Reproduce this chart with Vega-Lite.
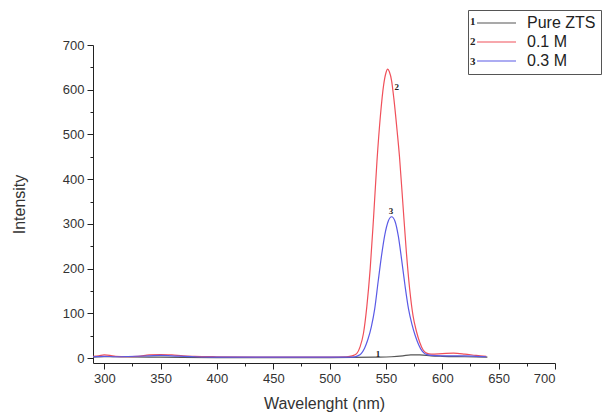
{
  "$schema": "https://vega.github.io/schema/vega-lite/v6.json",
  "autosize": {"type": "none"},
  "width": 462,
  "height": 318,
  "padding": {"left": 93, "top": 45, "right": 52, "bottom": 50},
  "background": "white",
  "config": {
    "view": {"stroke": null},
    "font": "Liberation Sans",
    "axis": {
      "grid": false,
      "domainColor": "#222",
      "tickColor": "#222",
      "labelColor": "#333",
      "titleColor": "#333",
      "labelFont": "Liberation Sans",
      "titleFont": "Liberation Sans",
      "labelFontSize": 13,
      "titleFontSize": 16,
      "titleFontWeight": "normal"
    }
  },
  "datasets": {
    "curves": [
      {"series": "Pure ZTS", "wavelength": 290, "intensity": 2},
      {"series": "Pure ZTS", "wavelength": 300, "intensity": 3},
      {"series": "Pure ZTS", "wavelength": 350, "intensity": 2},
      {"series": "Pure ZTS", "wavelength": 400, "intensity": 1},
      {"series": "Pure ZTS", "wavelength": 500, "intensity": 1},
      {"series": "Pure ZTS", "wavelength": 540, "intensity": 2},
      {"series": "Pure ZTS", "wavelength": 555, "intensity": 3},
      {"series": "Pure ZTS", "wavelength": 565, "intensity": 5},
      {"series": "Pure ZTS", "wavelength": 572, "intensity": 7},
      {"series": "Pure ZTS", "wavelength": 580, "intensity": 7},
      {"series": "Pure ZTS", "wavelength": 590, "intensity": 5},
      {"series": "Pure ZTS", "wavelength": 600, "intensity": 4},
      {"series": "Pure ZTS", "wavelength": 620, "intensity": 3},
      {"series": "Pure ZTS", "wavelength": 640, "intensity": 2},

      {"series": "0.1 M", "wavelength": 290, "intensity": 4},
      {"series": "0.1 M", "wavelength": 295, "intensity": 5},
      {"series": "0.1 M", "wavelength": 300, "intensity": 7},
      {"series": "0.1 M", "wavelength": 305, "intensity": 6},
      {"series": "0.1 M", "wavelength": 310, "intensity": 4},
      {"series": "0.1 M", "wavelength": 320, "intensity": 3},
      {"series": "0.1 M", "wavelength": 330, "intensity": 4},
      {"series": "0.1 M", "wavelength": 340, "intensity": 7},
      {"series": "0.1 M", "wavelength": 350, "intensity": 8},
      {"series": "0.1 M", "wavelength": 360, "intensity": 7},
      {"series": "0.1 M", "wavelength": 370, "intensity": 5},
      {"series": "0.1 M", "wavelength": 380, "intensity": 4},
      {"series": "0.1 M", "wavelength": 400, "intensity": 3},
      {"series": "0.1 M", "wavelength": 450, "intensity": 2},
      {"series": "0.1 M", "wavelength": 500, "intensity": 2},
      {"series": "0.1 M", "wavelength": 515, "intensity": 3},
      {"series": "0.1 M", "wavelength": 520, "intensity": 5},
      {"series": "0.1 M", "wavelength": 524, "intensity": 10},
      {"series": "0.1 M", "wavelength": 527, "intensity": 25},
      {"series": "0.1 M", "wavelength": 530, "intensity": 55},
      {"series": "0.1 M", "wavelength": 533, "intensity": 115},
      {"series": "0.1 M", "wavelength": 536, "intensity": 200},
      {"series": "0.1 M", "wavelength": 539, "intensity": 315},
      {"series": "0.1 M", "wavelength": 542, "intensity": 440},
      {"series": "0.1 M", "wavelength": 545, "intensity": 540},
      {"series": "0.1 M", "wavelength": 548, "intensity": 612},
      {"series": "0.1 M", "wavelength": 550, "intensity": 638},
      {"series": "0.1 M", "wavelength": 551.5, "intensity": 646},
      {"series": "0.1 M", "wavelength": 553, "intensity": 640},
      {"series": "0.1 M", "wavelength": 555, "intensity": 620},
      {"series": "0.1 M", "wavelength": 557, "intensity": 580},
      {"series": "0.1 M", "wavelength": 560, "intensity": 505},
      {"series": "0.1 M", "wavelength": 562, "intensity": 450},
      {"series": "0.1 M", "wavelength": 565, "intensity": 345},
      {"series": "0.1 M", "wavelength": 568, "intensity": 240},
      {"series": "0.1 M", "wavelength": 571, "intensity": 155},
      {"series": "0.1 M", "wavelength": 574, "intensity": 95},
      {"series": "0.1 M", "wavelength": 577, "intensity": 60},
      {"series": "0.1 M", "wavelength": 580, "intensity": 35},
      {"series": "0.1 M", "wavelength": 583, "intensity": 18},
      {"series": "0.1 M", "wavelength": 586, "intensity": 11},
      {"series": "0.1 M", "wavelength": 590, "intensity": 9},
      {"series": "0.1 M", "wavelength": 600, "intensity": 10},
      {"series": "0.1 M", "wavelength": 610, "intensity": 11},
      {"series": "0.1 M", "wavelength": 620, "intensity": 9},
      {"series": "0.1 M", "wavelength": 630, "intensity": 6},
      {"series": "0.1 M", "wavelength": 639, "intensity": 4},

      {"series": "0.3 M", "wavelength": 290, "intensity": 3},
      {"series": "0.3 M", "wavelength": 300, "intensity": 4},
      {"series": "0.3 M", "wavelength": 310, "intensity": 3},
      {"series": "0.3 M", "wavelength": 340, "intensity": 5},
      {"series": "0.3 M", "wavelength": 350, "intensity": 6},
      {"series": "0.3 M", "wavelength": 360, "intensity": 5},
      {"series": "0.3 M", "wavelength": 380, "intensity": 3},
      {"series": "0.3 M", "wavelength": 400, "intensity": 2},
      {"series": "0.3 M", "wavelength": 450, "intensity": 2},
      {"series": "0.3 M", "wavelength": 500, "intensity": 2},
      {"series": "0.3 M", "wavelength": 520, "intensity": 2},
      {"series": "0.3 M", "wavelength": 525, "intensity": 5},
      {"series": "0.3 M", "wavelength": 528, "intensity": 10},
      {"series": "0.3 M", "wavelength": 531, "intensity": 22},
      {"series": "0.3 M", "wavelength": 534, "intensity": 42},
      {"series": "0.3 M", "wavelength": 537, "intensity": 70},
      {"series": "0.3 M", "wavelength": 540, "intensity": 110},
      {"series": "0.3 M", "wavelength": 543, "intensity": 170},
      {"series": "0.3 M", "wavelength": 546, "intensity": 228},
      {"series": "0.3 M", "wavelength": 549, "intensity": 276},
      {"series": "0.3 M", "wavelength": 552, "intensity": 306},
      {"series": "0.3 M", "wavelength": 555, "intensity": 316},
      {"series": "0.3 M", "wavelength": 558, "intensity": 306},
      {"series": "0.3 M", "wavelength": 561, "intensity": 272},
      {"series": "0.3 M", "wavelength": 564, "intensity": 218},
      {"series": "0.3 M", "wavelength": 567, "intensity": 160},
      {"series": "0.3 M", "wavelength": 570, "intensity": 110},
      {"series": "0.3 M", "wavelength": 573, "intensity": 76},
      {"series": "0.3 M", "wavelength": 576, "intensity": 50},
      {"series": "0.3 M", "wavelength": 579, "intensity": 30},
      {"series": "0.3 M", "wavelength": 582, "intensity": 16},
      {"series": "0.3 M", "wavelength": 585, "intensity": 9},
      {"series": "0.3 M", "wavelength": 590, "intensity": 6},
      {"series": "0.3 M", "wavelength": 600, "intensity": 5},
      {"series": "0.3 M", "wavelength": 620, "intensity": 5},
      {"series": "0.3 M", "wavelength": 630, "intensity": 4},
      {"series": "0.3 M", "wavelength": 639, "intensity": 3}
    ],
    "peaks": [
      {"number": "1", "wavelength": 543, "intensity": 10},
      {"number": "2", "wavelength": 559.5, "intensity": 605},
      {"number": "3", "wavelength": 554.5, "intensity": 329}
    ]
  },
  "encoding": {
    "x": {
      "field": "wavelength",
      "type": "quantitative",
      "scale": {"domain": [290, 700], "nice": false, "zero": false},
      "axis": {
        "title": "Wavelenght (nm)",
        "values": [300, 325, 350, 375, 400, 425, 450, 475, 500, 525, 550, 575, 600, 625, 650, 675, 700],
        "labelExpr": "datum.value % 50 === 0 ? datum.label : ''",
        "tickSize": {"condition": {"test": "datum.value % 50 === 0", "value": 6}, "value": 3},
        "labelPadding": 3,
        "titlePadding": 10
      }
    },
    "y": {
      "field": "intensity",
      "type": "quantitative",
      "scale": {"domain": [-11, 700], "nice": false, "zero": false},
      "axis": {
        "title": "Intensity",
        "values": [0, 50, 100, 150, 200, 250, 300, 350, 400, 450, 500, 550, 600, 650, 700],
        "labelExpr": "datum.value % 100 === 0 ? datum.label : ''",
        "tickSize": {"condition": {"test": "datum.value % 100 === 0", "value": 6}, "value": 3},
        "labelPadding": 3,
        "titlePadding": 35
      }
    }
  },
  "layer": [
    {
      "data": {"name": "curves"},
      "mark": {"type": "line", "strokeWidth": 1.2, "interpolate": "monotone"},
      "encoding": {
        "color": {
          "field": "series",
          "type": "nominal",
          "scale": {"domain": ["Pure ZTS", "0.1 M", "0.3 M"], "range": ["#555555", "#f0505a", "#5a5ae6"]},
          "legend": {
            "title": null,
            "orient": "none",
            "legendX": 375,
            "legendY": -35,
            "padding": 5,
            "strokeColor": "#555",
            "fillColor": "white",
            "symbolType": "M-0.57,0H5",
            "symbolSize": 196,
            "symbolStrokeWidth": 1.2,
            "labelFont": "Liberation Sans",
            "labelFontSize": 16,
            "labelColor": "#222",
            "labelOffset": 38,
            "rowPadding": 3
          }
        },
        "order": {"field": "wavelength", "type": "quantitative"}
      }
    },
    {
      "data": {"name": "peaks"},
      "mark": {"type": "text", "font": "Liberation Serif", "fontWeight": "bold", "fontSize": 9, "color": "#222"},
      "encoding": {"text": {"field": "number"}}
    },
    {
      "data": {"name": "peaks"},
      "mark": {"type": "point", "opacity": 0},
      "encoding": {
        "shape": {
          "field": "number",
          "type": "nominal",
          "legend": {
            "title": null,
            "orient": "none",
            "legendX": 363,
            "legendY": -29,
            "padding": 0,
            "symbolOpacity": 0,
            "symbolSize": 1,
            "labelOffset": 3,
            "labelFont": "Liberation Serif",
            "labelFontWeight": "bold",
            "labelFontSize": 11,
            "labelColor": "#222",
            "rowPadding": 8
          }
        }
      }
    }
  ]
}
